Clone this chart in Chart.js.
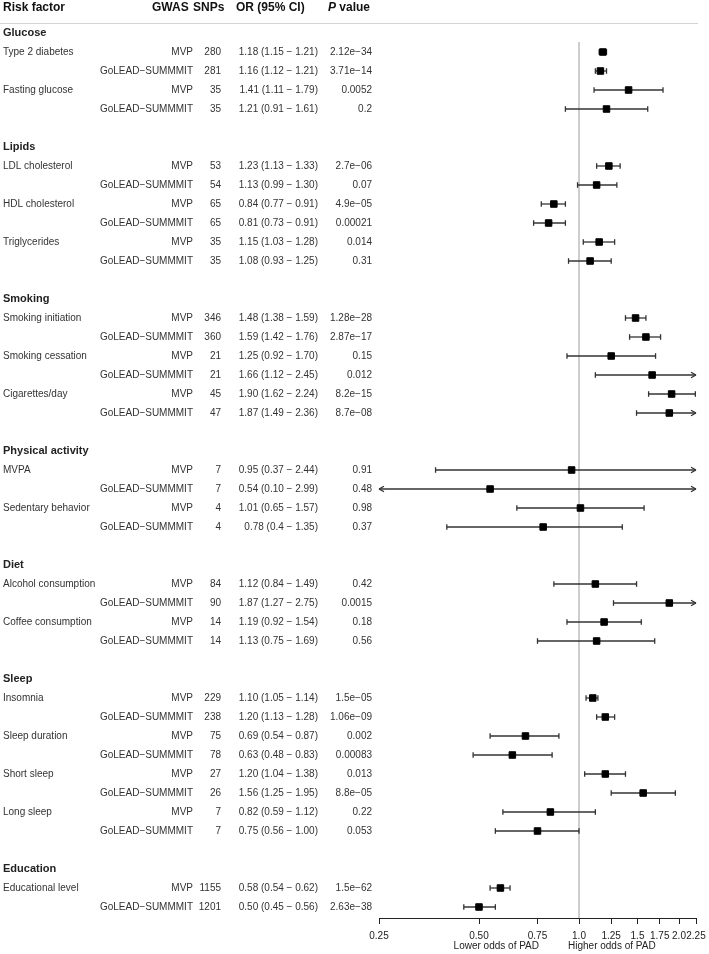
<!DOCTYPE html>
<html>
<head>
<meta charset="utf-8">
<script src="https://cdn.jsdelivr.net/npm/chart.js@4/dist/chart.umd.min.js"></script>
<style>
html,body{margin:0;padding:0;background:#fff;}
#wrap{width:709px;height:954px;}
</style>
</head>
<body>
<div id="wrap"><canvas id="c" width="709" height="954"></canvas></div>
<script>
// ---- data ----
const groups = ['Glucose','Lipids','Smoking','Physical activity','Diet','Sleep','Education'];
const riskFactors = ['Type 2 diabetes','Fasting glucose','LDL cholesterol','HDL cholesterol','Triglycerides',
  'Smoking initiation','Smoking cessation','Cigarettes/day','MVPA','Sedentary behavior',
  'Alcohol consumption','Coffee consumption','Insomnia','Sleep duration','Short sleep','Long sleep','Educational level'];
const factorGroup = ['Glucose','Glucose','Lipids','Lipids','Lipids','Smoking','Smoking','Smoking',
  'Physical activity','Physical activity','Diet','Diet','Sleep','Sleep','Sleep','Sleep','Education'];
const gwasSources = ['MVP','GoLEAD\u2212SUMMMIT'];
const snps = [280,281,35,35, 53,54,65,65,35,35, 346,360,21,21,45,47, 7,7,4,4, 84,90,14,14, 229,238,75,78,27,26,7,7, 1155,1201];
const orEst = ['1.18','1.16','1.41','1.21','1.23','1.13','0.84','0.81','1.15','1.08','1.48','1.59','1.25','1.66','1.90','1.87','0.95','0.54','1.01','0.78','1.12','1.87','1.19','1.13','1.10','1.20','0.69','0.63','1.20','1.56','0.82','0.75','0.58','0.50'];
const ciLow = ['1.15','1.12','1.11','0.91','1.13','0.99','0.77','0.73','1.03','0.93','1.38','1.42','0.92','1.12','1.62','1.49','0.37','0.10','0.65','0.4','0.84','1.27','0.92','0.75','1.05','1.13','0.54','0.48','1.04','1.25','0.59','0.56','0.54','0.45'];
const ciHigh = ['1.21','1.21','1.79','1.61','1.33','1.30','0.91','0.91','1.28','1.25','1.59','1.76','1.70','2.45','2.24','2.36','2.44','2.99','1.57','1.35','1.49','2.75','1.54','1.69','1.14','1.28','0.87','0.83','1.38','1.95','1.12','1.00','0.62','0.56'];
const pValues = ['2.12e\u221234','3.71e\u221214','0.0052','0.2','2.7e\u221206','0.07','4.9e\u221205','0.00021','0.014','0.31','1.28e\u221228','2.87e\u221217','0.15','0.012','8.2e\u221215','8.7e\u221208','0.91','0.48','0.98','0.37','0.42','0.0015','0.18','0.56','1.5e\u221205','1.06e\u221209','0.002','0.00083','0.013','8.8e\u221205','0.22','0.053','1.5e\u221262','2.63e\u221238'];
const tickValues = [0.25,0.5,0.75,1,1.25,1.5,1.75,2,2.25];
const tickLabels = ['0.25','0.50','0.75','1.0','1.25','1.5','1.75','2.0','2.25'];
const axisNotes = ['Lower odds of PAD','Higher odds of PAD'];

// ---- row layout (slot indices) ----
const groupSlot = {};
const rows = []; // {factor, gwas, idx, slot}
let slot = 0, r = 0;
groups.forEach(g => {
  groupSlot[g] = slot++;
  riskFactors.forEach((f, fi) => {
    if (factorGroup[fi] !== g) return;
    gwasSources.forEach((src, si) => {
      rows.push({factor: si === 0 ? f : '', gwas: src, idx: r++, slot: slot++});
    });
  });
  slot++;
});

const FONT = "'Liberation Sans', Arial, Helvetica, sans-serif";
const XMIN = 0.25, XMAX = 2.25;

const forestPlugin = {
  id: 'forest',
  beforeDatasetsDraw(chart) {
    const ctx = chart.ctx, xs = chart.scales.x, ys = chart.scales.y, ca = chart.chartArea;
    ctx.save();
    // reference line at OR = 1
    const x1 = xs.getPixelForValue(1);
    ctx.strokeStyle = '#bdbdbd'; ctx.lineWidth = 1.5;
    ctx.beginPath(); ctx.moveTo(x1, ca.top); ctx.lineTo(x1, ca.bottom); ctx.stroke();
    // confidence intervals
    ctx.strokeStyle = '#333'; ctx.fillStyle = '#333'; ctx.lineWidth = 1.3;
    rows.forEach(rw => {
      const lo = Number(ciLow[rw.idx]), hi = Number(ciHigh[rw.idx]);
      const y = ys.getPixelForValue(rw.slot);
      const xl = xs.getPixelForValue(Math.max(lo, XMIN));
      const xr = xs.getPixelForValue(Math.min(hi, XMAX));
      ctx.beginPath(); ctx.moveTo(xl, y); ctx.lineTo(xr, y); ctx.stroke();
      const endMark = (x, clipped, dir) => {
        if (clipped) {
          ctx.beginPath();
          ctx.moveTo(x, y); ctx.lineTo(x - dir * 5, y - 2.8);
          ctx.moveTo(x, y); ctx.lineTo(x - dir * 5, y + 2.8);
          ctx.stroke();
        } else {
          ctx.beginPath(); ctx.moveTo(x, y - 2.8); ctx.lineTo(x, y + 2.8); ctx.stroke();
        }
      };
      endMark(xl, lo < XMIN, -1);
      endMark(xr, hi > XMAX, 1);
    });
    ctx.restore();
  },
  afterDraw(chart) {
    const ctx = chart.ctx, xs = chart.scales.x, ys = chart.scales.y;
    ctx.save();
    ctx.textBaseline = 'middle';
    // header
    ctx.fillStyle = '#111';
    ctx.font = 'bold 12px ' + FONT;
    ctx.textAlign = 'left';
    const hy = 8;
    ctx.fillText('Risk factor', 3, hy);
    ctx.fillText('GWAS', 152, hy);
    ctx.fillText('SNPs', 193, hy);
    ctx.fillText('OR (95% CI)', 236, hy);
    ctx.font = 'italic bold 12px ' + FONT;
    ctx.fillText('P', 328, hy);
    const pw = ctx.measureText('P').width;
    ctx.font = 'bold 12px ' + FONT;
    ctx.fillText(' value', 328 + pw, hy);
    ctx.strokeStyle = '#d4d4d4'; ctx.lineWidth = 1;
    ctx.beginPath(); ctx.moveTo(0, 23.5); ctx.lineTo(698, 23.5); ctx.stroke();
    // group labels
    ctx.font = 'bold 11px ' + FONT;
    ctx.fillStyle = '#222';
    groups.forEach(g => ctx.fillText(g, 3, ys.getPixelForValue(groupSlot[g])));
    // rows
    ctx.font = '10px ' + FONT;
    ctx.fillStyle = '#333';
    rows.forEach(rw => {
      const y = ys.getPixelForValue(rw.slot);
      ctx.textAlign = 'left';
      if (rw.factor) ctx.fillText(rw.factor, 3, y);
      ctx.textAlign = 'right';
      ctx.fillText(rw.gwas, 193, y);
      ctx.fillText(String(snps[rw.idx]), 221, y);
      ctx.fillText(orEst[rw.idx] + ' (' + ciLow[rw.idx] + ' \u2212 ' + ciHigh[rw.idx] + ')', 318, y);
      ctx.fillText(pValues[rw.idx], 372, y);
    });
    // axis notes
    const ax = xs.getPixelForValue(1);
    ctx.fillStyle = '#222';
    ctx.font = '10px ' + FONT;
    ctx.textAlign = 'right';
    ctx.fillText(axisNotes[0], ax - 40, 946);
    ctx.textAlign = 'left';
    ctx.fillText(axisNotes[1], ax - 11, 946);
    ctx.restore();
  }
};

const pts = rows.map(rw => ({x: Number(orEst[rw.idx]), y: rw.slot}));
const Y0 = 9 / 19;
new Chart(document.getElementById('c'), {
  type: 'scatter',
  data: { datasets: [{
    data: pts,
    pointStyle: 'rect',
    pointRadius: 4.6,
    pointHoverRadius: 4.6,
    backgroundColor: '#000',
    borderColor: '#000',
    borderWidth: 1
  }]},
  options: {
    responsive: false,
    animation: false,
    events: [],
    layout: { padding: { left: 379, right: 13, top: 42, bottom: 0 } },
    plugins: { legend: { display: false }, tooltip: { enabled: false } },
    scales: {
      x: {
        type: 'logarithmic',
        min: XMIN, max: XMAX,
        position: 'bottom',
        afterBuildTicks: axis => { axis.ticks = tickValues.map(v => ({value: v})); },
        afterFit: axis => { axis.height = 36; axis.paddingLeft = 0; axis.paddingRight = 0; },
        grid: { display: true, drawOnChartArea: false, drawTicks: true, tickLength: 6, color: '#222', lineWidth: 1 },
        border: { display: true, color: '#222', width: 1 },
        ticks: {
          autoSkip: false, maxRotation: 0, minRotation: 0, padding: 6,
          color: '#222', font: { family: FONT, size: 10 },
          callback: (v, i) => tickLabels[i]
        }
      },
      y: {
        type: 'linear', reverse: true, display: false,
        min: Y0, max: Y0 + 876 / 19
      }
    }
  },
  plugins: [forestPlugin]
});
</script>
</body>
</html>
